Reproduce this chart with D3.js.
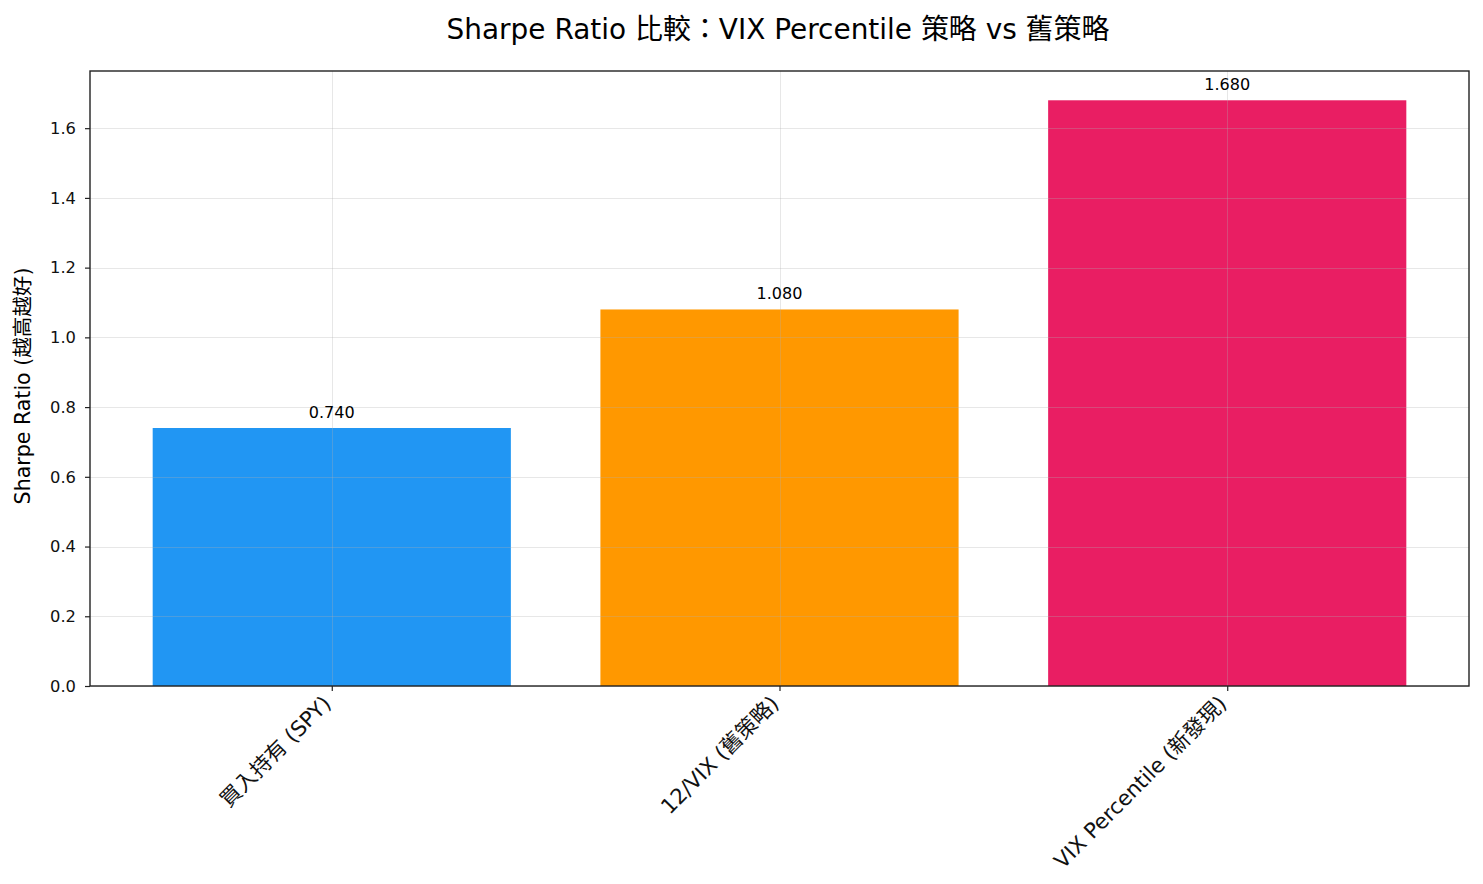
<!DOCTYPE html>
<html><head><meta charset="utf-8">
<script src="https://cdn.jsdelivr.net/npm/d3@7"></script>
<style>body{margin:0;background:#fff;} text{font-family:"DejaVu Sans","Noto Sans CJK TC",sans-serif;fill:#000;}</style>
</head><body><svg id="c" width="1483" height="884"></svg>
<script>
const categories = ["買入持有 (SPY)", "12/VIX (舊策略)", "VIX Percentile (新發現)"];
const values = [0.74, 1.08, 1.68];
const colors = ["#2196F3", "#FF9800", "#E91E63"];
const yTicks = [0, 0.2, 0.4, 0.6, 0.8, 1.0, 1.2, 1.4, 1.6];
const title = "Sharpe Ratio 比較：VIX Percentile 策略 vs 舊策略";
const yLabel = "Sharpe Ratio (越高越好)";

const svg = d3.select("#c");
const L = 90, R = 1469, T = 71, B = 686;
const x = d3.scaleLinear().domain([-0.54, 2.54]).range([L, R]);
const y = d3.scaleLinear().domain([0, 1.68 * 1.05]).range([B, T]);
const bw = 0.8;

// scale a text's font size so that its rendered length matches a target length
function fit(sel, base, target) {
  sel.attr("font-size", base);
  const len = sel.node().getComputedTextLength();
  const fs = base * target / len;
  sel.attr("font-size", fs);
  return fs;
}

svg.selectAll("rect.bar").data(values).enter().append("rect")
  .attr("x", (d, i) => x(i - bw / 2)).attr("width", (d, i) => x(i + bw / 2) - x(i - bw / 2))
  .attr("y", d => y(d)).attr("height", d => y(0) - y(d))
  .attr("fill", (d, i) => colors[i]);

// grid
const g = svg.append("g").attr("stroke", "#b0b0b0").attr("stroke-opacity", 0.3).attr("stroke-width", 1);
yTicks.forEach(t => g.append("line").attr("x1", L).attr("x2", R).attr("y1", Math.round(y(t)) + 0.5).attr("y2", Math.round(y(t)) + 0.5));
categories.forEach((c, i) => g.append("line").attr("y1", T).attr("y2", B).attr("x1", Math.round(x(i)) + 0.5).attr("x2", Math.round(x(i)) + 0.5));

// axes
const ya = svg.append("g").attr("transform", `translate(${L},0)`)
  .call(d3.axisLeft(y).tickValues(yTicks).tickFormat(d3.format(".1f")).tickSize(5).tickPadding(9));
const xa = svg.append("g").attr("transform", `translate(0,${B})`)
  .call(d3.axisBottom(x).tickValues(d3.range(categories.length)).tickFormat(i => categories[i]).tickSize(5));
[ya, xa].forEach(a => { a.select(".domain").remove(); a.selectAll("line").attr("stroke", "#222").attr("stroke-width", 1.2); a.selectAll("text").style("fill", "#111"); });
const tfs = fit(ya.select(".tick:last-of-type text"), 16, 26);
ya.selectAll("text").attr("font-size", tfs);
const xfs = fit(xa.selectAll("text").filter((d, i) => i === 2), 16, 233);
xa.selectAll("text").attr("font-size", xfs).attr("text-anchor", "end").attr("dy", null).attr("y", 0)
  .attr("transform", "translate(0,19) rotate(-45)");

svg.append("rect").attr("x", L).attr("y", T).attr("width", R - L).attr("height", B - T)
  .attr("fill", "none").attr("stroke", "#222").attr("stroke-width", 1.4);

// value labels
const vl = svg.selectAll("text.val").data(values).enter().append("text")
  .attr("x", (d, i) => x(i)).attr("y", d => y(d) - 10)
  .attr("text-anchor", "middle").text(d => d.toFixed(3));
const vfs = fit(vl.filter((d, i) => i === 0), 14, 46);
vl.attr("font-size", vfs);

fit(svg.append("text").attr("x", 778).attr("y", 39).attr("text-anchor", "middle").text(title), 24, 663);
fit(svg.append("text").attr("transform", `translate(30,386) rotate(-90)`)
  .attr("text-anchor", "middle").text(yLabel), 16, 237);
</script></body></html>
